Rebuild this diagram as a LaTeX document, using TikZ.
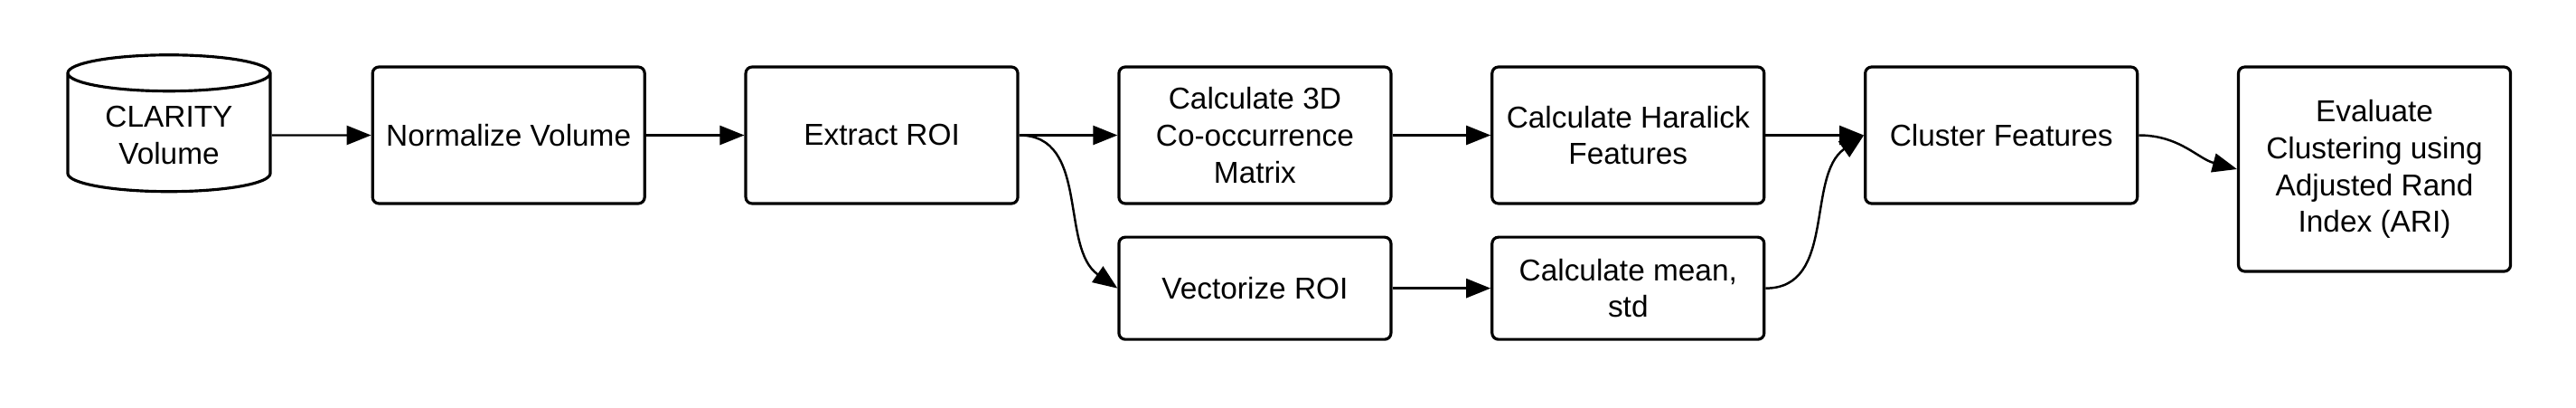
\documentclass[tikz,border=0pt]{standalone}
\usepackage{fontspec}
\setmainfont{Liberation Sans}
\usetikzlibrary{positioning,shapes.geometric,arrows.meta}
\begin{document}
\begin{tikzpicture}[node distance=1.087cm,
        every node/.style={font=\fontsize{9.5}{11.6}\selectfont, align=center, inner sep=1pt},
        stage/.style={draw, rounded corners=2pt, line width=0.9pt, minimum width=3.01cm, minimum height=1.51cm},
        substage/.style={stage, minimum height=1.13cm},
        store/.style={draw, cylinder, shape border rotate=90, aspect=0.27, line width=0.9pt, minimum width=2.24cm, minimum height=1.51cm},
        flow/.style={-{Triangle[length=7.7pt,width=6pt]}, line width=0.7pt}]
        \useasboundingbox (0,0) rectangle (28.5,-4.5);
        \node[store] (vol) at (1.87,-1.495) {CLARITY\\Volume};
        \node[stage, right=1.10cm of vol] (norm) {Normalize Volume};
        \node[stage, right=of norm] (roi) {Extract ROI};
        \node[stage, right=of roi] (glcm) {Calculate 3D\\Co-occurrence\\Matrix};
        \node[stage, right=of glcm] (haralick) {Calculate Haralick\\Features};
        \node[stage, right=of haralick] (cluster) {Cluster Features};
        \node[stage, minimum height=2.26cm, right=of cluster.north east, anchor=north west] (ari) {Evaluate\\Clustering using\\Adjusted Rand\\Index (ARI)};
        \node[substage, below=0.34cm of glcm] (vec) {Vectorize ROI};
        \node[substage, right=of vec] (stats) {Calculate mean,\\std};
        % connectors
        \draw[flow] (vol) -- (norm);
        \draw[flow] (norm) -- (roi);
        \draw[flow] (roi) -- (glcm);
        \draw[flow] (glcm) -- (haralick);
        \draw[flow] (haralick) -- (cluster);
        \draw[flow] (vec) -- (stats);
        \draw[flow] (roi.east) to[out=0,in=145] (vec.west);
        \draw[flow] (stats.east) to[out=0,in=215] (cluster.west);
        \draw[flow] (cluster.east) to[out=0,in=165] (ari.west);
      \end{tikzpicture}
\end{document}
